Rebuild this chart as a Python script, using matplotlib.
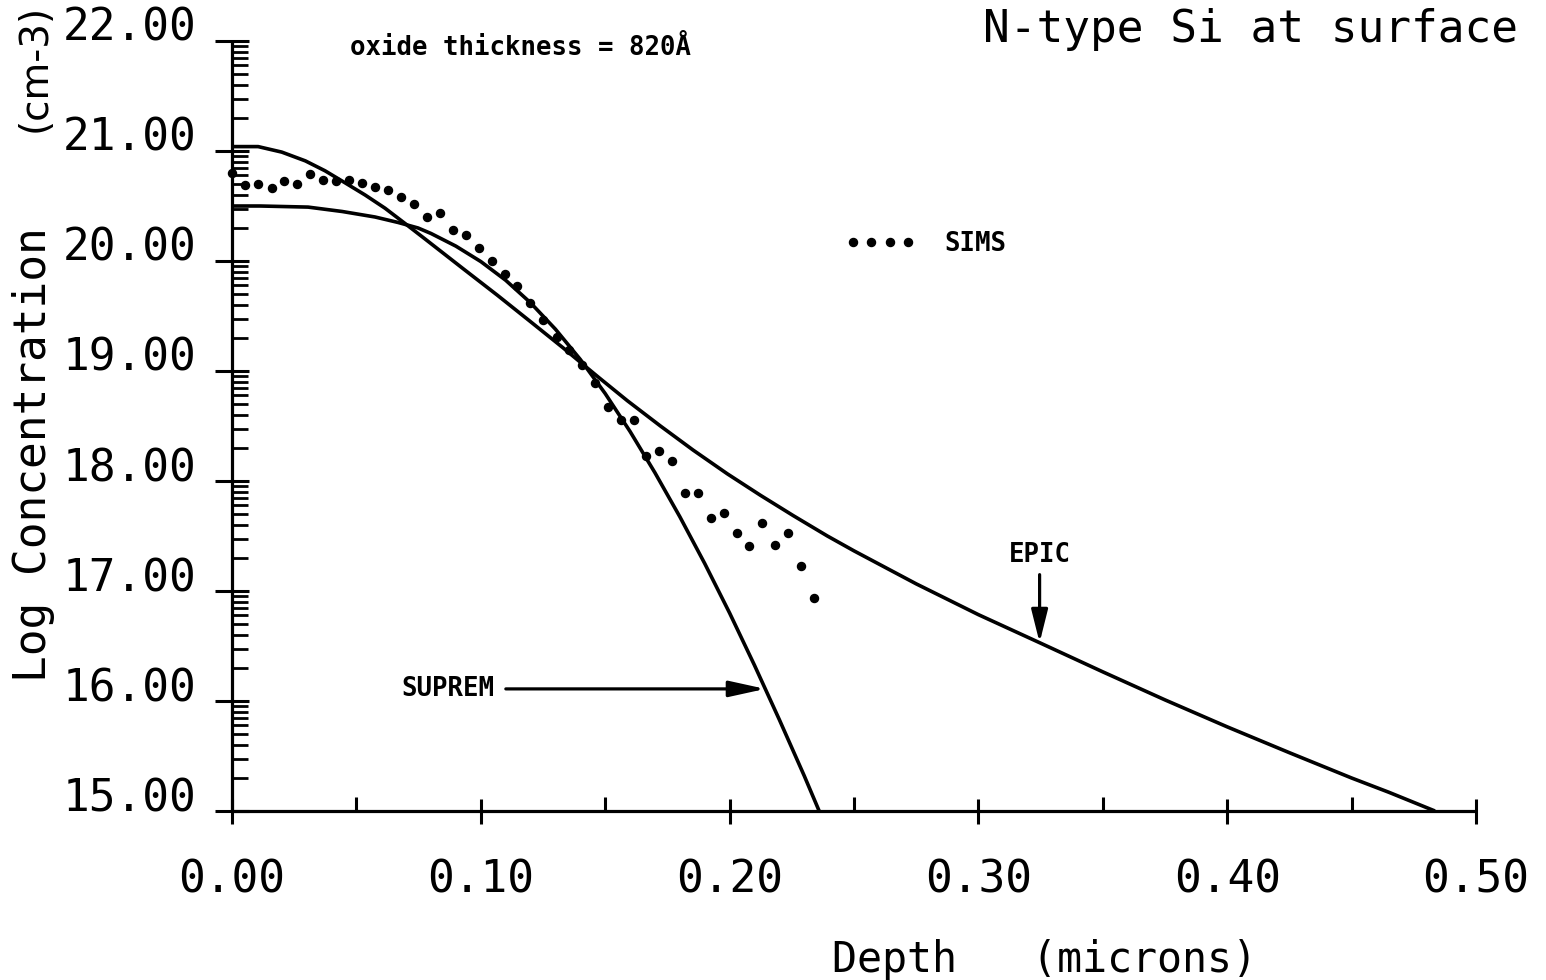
import numpy as np
import matplotlib
matplotlib.use("Agg")
import matplotlib.pyplot as plt
from matplotlib.ticker import FixedLocator, FormatStrFormatter

# SIMS measurement: depth (microns) and log10 concentration (cm-3)
sims_depth = [0.0000, 0.0052, 0.0105, 0.0161, 0.0209, 0.0261, 0.0314, 0.0366,
              0.0418, 0.0470, 0.0523, 0.0575, 0.0627, 0.0680, 0.0732, 0.0784,
              0.0836, 0.0889, 0.0941, 0.0993, 0.1046, 0.1098, 0.1146, 0.1199,
              0.1251, 0.1307, 0.1356, 0.1408, 0.1460, 0.1513, 0.1565, 0.1617,
              0.1665, 0.1718, 0.1770, 0.1822, 0.1874, 0.1927, 0.1979, 0.2031,
              0.2079, 0.2132, 0.2184, 0.2236, 0.2288, 0.2341]
sims_logc = [20.80, 20.69, 20.70, 20.66, 20.73, 20.70, 20.79, 20.74,
             20.73, 20.74, 20.71, 20.67, 20.65, 20.58, 20.52, 20.40,
             20.44, 20.28, 20.24, 20.12, 20.00, 19.88, 19.77, 19.62,
             19.46, 19.31, 19.19, 19.05, 18.89, 18.67, 18.55, 18.55,
             18.23, 18.27, 18.18, 17.89, 17.89, 17.66, 17.71, 17.53,
             17.41, 17.62, 17.42, 17.53, 17.23, 16.94]

# EPIC simulation
epic_depth = [0.0000, 0.0105, 0.0200, 0.0295, 0.0374, 0.0455, 0.0535, 0.0615,
              0.0696, 0.0776, 0.0929, 0.1066, 0.1199, 0.1331, 0.1400, 0.1472,
              0.1589, 0.1722, 0.1854, 0.1991, 0.2124, 0.2256, 0.2393, 0.2500,
              0.2750, 0.3000, 0.3246, 0.3500, 0.3750, 0.4000, 0.4250, 0.4500,
              0.4650, 0.4835]
epic_logc = [21.04, 21.04, 20.99, 20.91, 20.82, 20.71, 20.60, 20.48,
             20.34, 20.20, 19.93, 19.69, 19.45, 19.21, 19.08, 18.945,
             18.73, 18.50, 18.28, 18.065, 17.87, 17.685, 17.50, 17.365,
             17.065, 16.785, 16.53, 16.265, 16.01, 15.765, 15.53, 15.30,
             15.17, 15.00]

# SUPREM simulation
suprem_depth = [0.0000, 0.0113, 0.0306, 0.0443, 0.0575, 0.0668, 0.0748, 0.0800,
                0.0900, 0.1000, 0.1100, 0.1200, 0.1300, 0.1400, 0.1500, 0.1600,
                0.1700, 0.1800, 0.1900, 0.2000, 0.2100, 0.2200, 0.2300, 0.2360]
suprem_logc = [20.50, 20.50, 20.49, 20.45, 20.40, 20.35, 20.30, 20.25,
               20.135, 19.995, 19.825, 19.62, 19.38, 19.105, 18.795, 18.45,
               18.075, 17.675, 17.25, 16.80, 16.325, 15.83, 15.32, 15.00]

x_ticks = [0.0, 0.1, 0.2, 0.3, 0.4, 0.5]
x_minor = [0.05, 0.15, 0.25, 0.35, 0.45]
y_ticks = [15, 16, 17, 18, 19, 20, 21, 22]

epic_arrow_depth = 0.3246
suprem_arrow_level = 16.11

MONO = ["DejaVu Sans Mono", "DejaVu Sans"]
plt.rcParams["font.family"] = MONO

W, H = 1546, 980
fig = plt.figure(figsize=(W / 100, H / 100), dpi=100)
fig.patch.set_facecolor("white")


def fx(px):
    return px / W


def fy(py):
    return 1 - py / H


ax = fig.add_axes([fx(232), fy(811), fx(1476) - fx(232), fy(41) - fy(811)])
ax.set_xlim(0, 0.5)
ax.set_ylim(15, 22)
ax.set_facecolor("none")

for s in ("top", "right"):
    ax.spines[s].set_visible(False)
for s in ("left", "bottom"):
    ax.spines[s].set_linewidth(2.3)
    ax.spines[s].set_capstyle("butt")

lw = 2.6
ax.plot(epic_depth, epic_logc, color="black", lw=lw, solid_joinstyle="round",
        solid_capstyle="butt", clip_on=False)
ax.plot(suprem_depth, suprem_logc, color="black", lw=lw, solid_joinstyle="round",
        solid_capstyle="butt", clip_on=False)
sims_line, = ax.plot(sims_depth, sims_logc, linestyle="none", marker="o",
                     markersize=5.8, color="black", clip_on=False)

# ticks: decades with log-spaced minor ticks on the concentration axis
ax.xaxis.set_major_locator(FixedLocator(x_ticks))
ax.xaxis.set_minor_locator(FixedLocator(x_minor))
ax.xaxis.set_major_formatter(FormatStrFormatter("%.2f"))
minor_y = [d + np.log10(k) for d in y_ticks[:-1] for k in range(2, 10)]
ax.yaxis.set_major_locator(FixedLocator(y_ticks))
ax.yaxis.set_minor_locator(FixedLocator(minor_y))
ax.yaxis.set_major_formatter(FormatStrFormatter("%.2f"))

ax.tick_params(axis="x", which="major", direction="inout", length=18, width=2.2,
               pad=25, labelsize=32)
ax.tick_params(axis="x", which="minor", direction="in", length=10, width=2.2)
ax.tick_params(axis="y", which="major", direction="inout", length=25, width=2.2,
               pad=13, labelsize=32)
ax.tick_params(axis="y", which="minor", direction="in", length=11.5, width=2.0)
for lab in ax.get_yticklabels():
    lab.set_verticalalignment("baseline")

# titles and axis labels
fig.text(fx(983), fy(42), "N-type Si at surface", fontsize=32, ha="left",
         va="baseline")
fig.text(fx(832), fy(972), "Depth   (microns)", fontsize=30, ha="left",
         va="baseline")
fig.text(fx(46), fy(455), "Log Concentration", fontsize=32, rotation=90,
         rotation_mode="anchor", ha="center", va="baseline")
fig.text(fx(46), fy(68), "(cm-3)", fontsize=28, family="DejaVu Sans",
         rotation=90, rotation_mode="anchor", ha="center", va="baseline")
fig.text(fx(350), fy(55), "oxide thickness = 820Å", fontsize=18.5,
         fontweight="bold", ha="left", va="baseline")

# SIMS key
leg = ax.legend(handles=[sims_line], labels=["SIMS"], numpoints=4, frameon=False,
                prop={"size": 18.5, "weight": "bold"}, handlelength=2.76,
                handletextpad=1.1, borderpad=0, borderaxespad=0,
                loc="center left", bbox_to_anchor=(fx(845), fy(244)),
                bbox_transform=fig.transFigure)

# curve labels with arrows
epic_tip = np.interp(epic_arrow_depth, epic_depth, epic_logc)
ax.annotate("EPIC", xy=(epic_arrow_depth, epic_tip),
            xytext=(epic_arrow_depth, 17.33), ha="center", va="center",
            fontsize=18.5, fontweight="bold",
            arrowprops=dict(arrowstyle="-|>,head_length=1.0,head_width=0.25",
                            mutation_scale=20, lw=2.3, color="black",
                            shrinkA=3, shrinkB=0))

suprem_tip = np.interp(suprem_arrow_level, suprem_logc[::-1], suprem_depth[::-1])
ax.annotate("SUPREM", xy=(suprem_tip, suprem_arrow_level),
            xytext=(0.0869, suprem_arrow_level), ha="center", va="center",
            fontsize=18.5, fontweight="bold",
            arrowprops=dict(arrowstyle="-|>,head_length=1.0,head_width=0.22",
                            mutation_scale=22, lw=2.3, color="black",
                            shrinkA=6, shrinkB=0))

fig.savefig("out.png", dpi=100, facecolor="white")
